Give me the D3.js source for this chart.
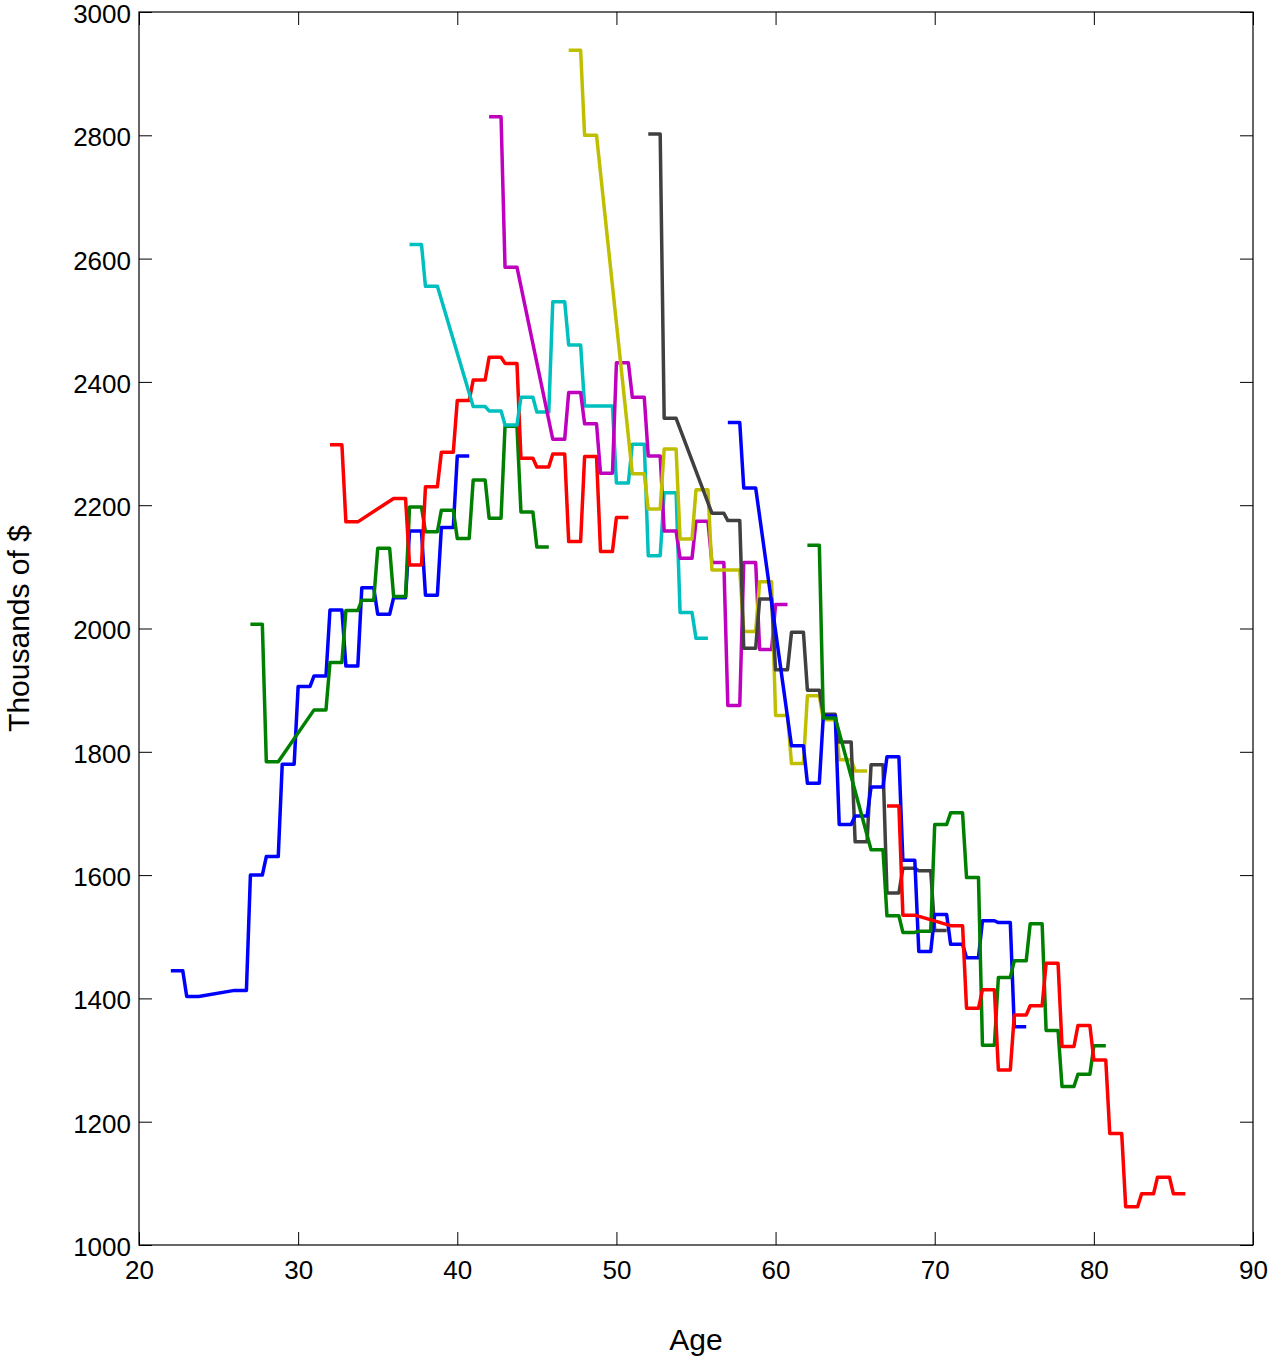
<!DOCTYPE html>
<html>
<head>
<meta charset="utf-8">
<script src="https://cdn.jsdelivr.net/npm/d3@7"></script>
<style>
  body { margin: 0; background: #fff; }
  svg { display: block; }
  text { font-family: "Liberation Sans", Arial, Helvetica, sans-serif; fill: #000; }
</style>
</head>
<body>
<svg id="chart" width="1271" height="1357"></svg>
<script>
// Wealth by age for ten cohorts, one value per year of age (thousands of $).
// null marks a year with no observation; the line bridges across it.
const startAges = [22, 27, 32, 37, 42, 47, 52, 57, 62, 67];

const cohort22 = [1445, 1403, null, null, 1413, 1600, 1630, 1780, 1906, 1923, 2030, 1939, 2066, 2023, 2050, 2158, 2054, 2164, 2280];
const cohort27 = [2007, 1784, null, null, 1868, 1945, 2029, 2046, 2130, 2052, 2197, 2157, 2192, 2146, 2241, 2179, 2328, 2189, 2132];
const cohort32 = [2298, 2173, null, null, 2211, 2103, 2230, 2286, 2370, 2403, 2440, 2430, 2276, 2262, 2283, 2141, 2279, 2125, 2180];
const cohort37 = [2623, 2555, null, null, 2360, 2353, 2330, 2375, 2351, 2530, 2460, 2361, 2361, 2236, 2299, 2118, 2220, 2026, 1984];
const cohort42 = [2830, 2586, null, null, 2307, 2383, 2332, 2252, 2431, 2375, 2280, 2158, 2114, 2174, 2107, 1875, 2107, 1966, 2039];
const cohort47 = [2938, 2800, null, null, 2251, 2194, 2291, 2145, 2225, 2095, 2095, 1995, 2076, 1859, 1781, 1891, 1852, 1787, 1769];
const cohort52 = [2802, 2341, null, null, 2187, 2175, 1968, 2048, 1933, 1994, 1900, 1861, 1816, 1654, 1779, 1571, 1611, 1607, 1510];
const cohort57 = [2334, 2228, null, null, 1810, 1749, 1858, 1682, 1696, 1743, 1792, 1624, 1476, 1536, 1488, 1466, 1526, 1523, 1354];
const cohort62 = [2135, 1855, null, null, 1641, 1534, 1507, 1509, 1682, 1701, 1596, 1324, 1434, 1461, 1521, 1348, 1257, 1277, 1323];
const cohort67 = [1712, 1535, null, null, 1518, 1384, 1414, 1284, 1373, 1388, 1457, 1322, 1356, 1300, 1181, 1062, 1083, 1110, 1083];

const cohortValues = [cohort22, cohort27, cohort32, cohort37, cohort42, cohort47, cohort52, cohort57, cohort62, cohort67];
const cohortColors = ["#0000ff", "#008000", "#ff0000", "#00bfbf", "#bf00bf", "#bfbf00", "#404040", "#0000ff", "#008000", "#ff0000"];

const xTicks = [20, 30, 40, 50, 60, 70, 80, 90];
const yTicks = [1000, 1200, 1400, 1600, 1800, 2000, 2200, 2400, 2600, 2800, 3000];

// Each yearly value is held for three quarters of the year before moving to the next.
const holdYears = 0.75;

const margin = { top: 12, right: 18, bottom: 112, left: 139 };
const W = 1271, H = 1357;
const iw = W - margin.left - margin.right;
const ih = H - margin.top - margin.bottom;

const svg = d3.select("#chart");
const g = svg.append("g").attr("transform", `translate(${margin.left},${margin.top})`);

const x = d3.scaleLinear().domain([20, 90]).range([0, iw]);
const y = d3.scaleLinear().domain([1000, 3000]).range([ih, 0]);

const tickLen = 13;
const tickFont = "26px";

// left axis with labels, ticks pointing inward
const left = g.append("g")
  .call(d3.axisLeft(y).tickValues(yTicks).tickSize(-tickLen).tickPadding(8).tickFormat(d3.format("d")));
left.selectAll("text").style("font-size", tickFont).attr("dy", "0.4em");

// bottom axis with labels
const bottom = g.append("g").attr("transform", `translate(0,${ih})`)
  .call(d3.axisBottom(x).tickValues(xTicks).tickSize(-tickLen).tickPadding(16).tickFormat(d3.format("d")));
bottom.selectAll("text").style("font-size", tickFont);

// right and top axes: ticks only
g.append("g").attr("transform", `translate(${iw},0)`)
  .call(d3.axisRight(y).tickValues(yTicks).tickSize(-tickLen).tickFormat(""));
g.append("g")
  .call(d3.axisTop(x).tickValues(xTicks).tickSize(-tickLen).tickFormat(""));

g.selectAll(".domain").remove();
g.selectAll(".tick line").attr("stroke", "#000").attr("stroke-width", 1);

// plot frame
g.append("rect")
  .attr("x", 0).attr("y", 0).attr("width", iw).attr("height", ih)
  .attr("fill", "none").attr("stroke", "#000").attr("stroke-width", 1.2);

// cohort lines
const line = d3.line().x(d => x(d[0])).y(d => y(d[1]));

cohortValues.forEach((vals, k) => {
  const pts = [];
  vals.forEach((v, i) => {
    if (v === null) return;
    const a = startAges[k] + i;
    pts.push([a, v], [a + holdYears, v]);
  });
  g.append("path")
    .datum(pts)
    .attr("d", line)
    .attr("fill", "none")
    .attr("stroke", cohortColors[k])
    .attr("stroke-width", 3.5)
    .attr("stroke-linejoin", "round")
    .attr("stroke-linecap", "butt");
});

// axis titles
svg.append("text")
  .attr("x", margin.left + iw / 2)
  .attr("y", 1350)
  .attr("text-anchor", "middle")
  .style("font-size", "30px")
  .text("Age");

svg.append("text")
  .attr("transform", `translate(29,${margin.top + ih / 2}) rotate(-90)`)
  .attr("text-anchor", "middle")
  .style("font-size", "30px")
  .text("Thousands of $");
</script>
</body>
</html>
